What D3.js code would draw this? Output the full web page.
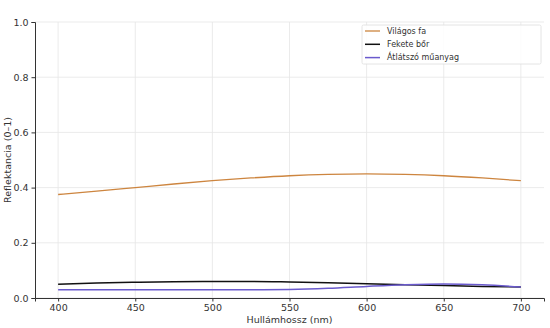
<!DOCTYPE html>
<html>
<head>
<meta charset="utf-8">
<script src="https://cdn.jsdelivr.net/npm/d3@7"></script>
<style>
  body { margin: 0; background: #fff; }
  text { font-family: "DejaVu Sans", sans-serif; }
</style>
</head>
<body>
<div id="chart"></div>
<script>
// wavelengths (nm) and reflectance of each material
var wavelengths = [400, 425, 450, 475, 500, 525, 550, 575, 600, 625, 650, 675, 700];
var lightWood   = [0.375, 0.387, 0.400, 0.413, 0.425, 0.435, 0.443, 0.448, 0.450, 0.448, 0.443, 0.435, 0.425];
var blackLeather = [0.050, 0.054, 0.057, 0.059, 0.060, 0.060, 0.058, 0.055, 0.052, 0.048, 0.045, 0.042, 0.040];
var clearPlastic = [0.030, 0.030, 0.030, 0.030, 0.030, 0.030, 0.031, 0.035, 0.042, 0.048, 0.051, 0.048, 0.040];
var seriesNames = ["Világos fa", "Fekete bőr", "Átlátszó műanyag"];
var xTicks = [400, 450, 500, 550, 600, 650, 700];
var yTicks = [0.0, 0.2, 0.4, 0.6, 0.8, 1.0];

var colors = ["#cd853f", "#111111", "#6a5acd"];
var widths = [1.3, 1.5, 1.5];

var W = 550, H = 328;
var margin = {top: 22, right: 6, bottom: 30, left: 35};
var width = W - margin.left - margin.right,
    height = H - margin.top - margin.bottom;

var svg = d3.select("#chart").append("svg")
    .attr("width", W).attr("height", H)
  .append("g")
    .attr("transform", "translate(" + margin.left + "," + margin.top + ")");

var x = d3.scaleLinear().domain([385, 715]).range([0, width]);
var y = d3.scaleLinear().domain([0, 1]).range([height, 0]);

// grid
svg.append("g").selectAll("line").data(xTicks).enter().append("line")
    .attr("x1", d => x(d)).attr("x2", d => x(d))
    .attr("y1", 0).attr("y2", height)
    .attr("stroke", "#e6e6e6").attr("stroke-width", 0.8);
svg.append("g").selectAll("line").data(yTicks).enter().append("line")
    .attr("x1", 0).attr("x2", width)
    .attr("y1", d => y(d)).attr("y2", d => y(d))
    .attr("stroke", "#e6e6e6").attr("stroke-width", 0.8);

// axes
var xAxis = svg.append("g")
    .attr("transform", "translate(0," + height + ")")
    .call(d3.axisBottom(x).tickValues(xTicks).tickSizeOuter(0).tickSize(3.5).tickPadding(3));
var yAxis = svg.append("g")
    .call(d3.axisLeft(y).tickValues(yTicks).tickFormat(d3.format(".1f")).tickSizeOuter(0).tickSize(3.5).tickPadding(3));
[xAxis, yAxis].forEach(function(a) {
  a.select(".domain").attr("stroke", "#333").attr("stroke-width", 1);
  a.selectAll(".tick line").attr("stroke", "#333");
  a.selectAll("text").attr("fill", "#333").style("font-size", "9.5px").style("font-family", "DejaVu Sans");
});

svg.append("text")
    .attr("x", width / 2).attr("y", height + 25)
    .attr("text-anchor", "middle").attr("fill", "#333")
    .style("font-size", "9.5px")
    .text("Hullámhossz (nm)");
svg.append("text")
    .attr("transform", "translate(" + (-24) + "," + (height / 2) + ") rotate(-90)")
    .attr("text-anchor", "middle").attr("fill", "#333")
    .style("font-size", "9.5px")
    .text("Reflektancia (0–1)");

// lines
var allSeries = [lightWood, blackLeather, clearPlastic];
var line = d3.line()
    .x((d, i) => x(wavelengths[i]))
    .y(d => y(d))
    .curve(d3.curveMonotoneX);

svg.selectAll(".series").data(allSeries).enter().append("path")
    .attr("class", "series")
    .attr("d", line)
    .attr("fill", "none")
    .attr("stroke", (d, i) => colors[i])
    .attr("stroke-width", (d, i) => widths[i]);

// legend
var lg = svg.append("g").attr("transform", "translate(" + (362 - margin.left) + "," + (25 - margin.top) + ")");
lg.append("rect")
    .attr("width", 179).attr("height", 39)
    .attr("fill", "#fff").attr("fill-opacity", 0.85)
    .attr("stroke", "#ddd").attr("stroke-width", 0.8).attr("rx", 1.5);
seriesNames.forEach(function(n, i) {
  var yy = 6 + i * 13.3;
  lg.append("line")
      .attr("x1", 3).attr("x2", 18).attr("y1", yy).attr("y2", yy)
      .attr("stroke", colors[i]).attr("stroke-width", widths[i]);
  lg.append("text")
      .attr("x", 25).attr("y", yy).attr("dy", "0.35em")
      .attr("fill", "#333").style("font-size", "8px")
      .text(n);
});
</script>
</body>
</html>
